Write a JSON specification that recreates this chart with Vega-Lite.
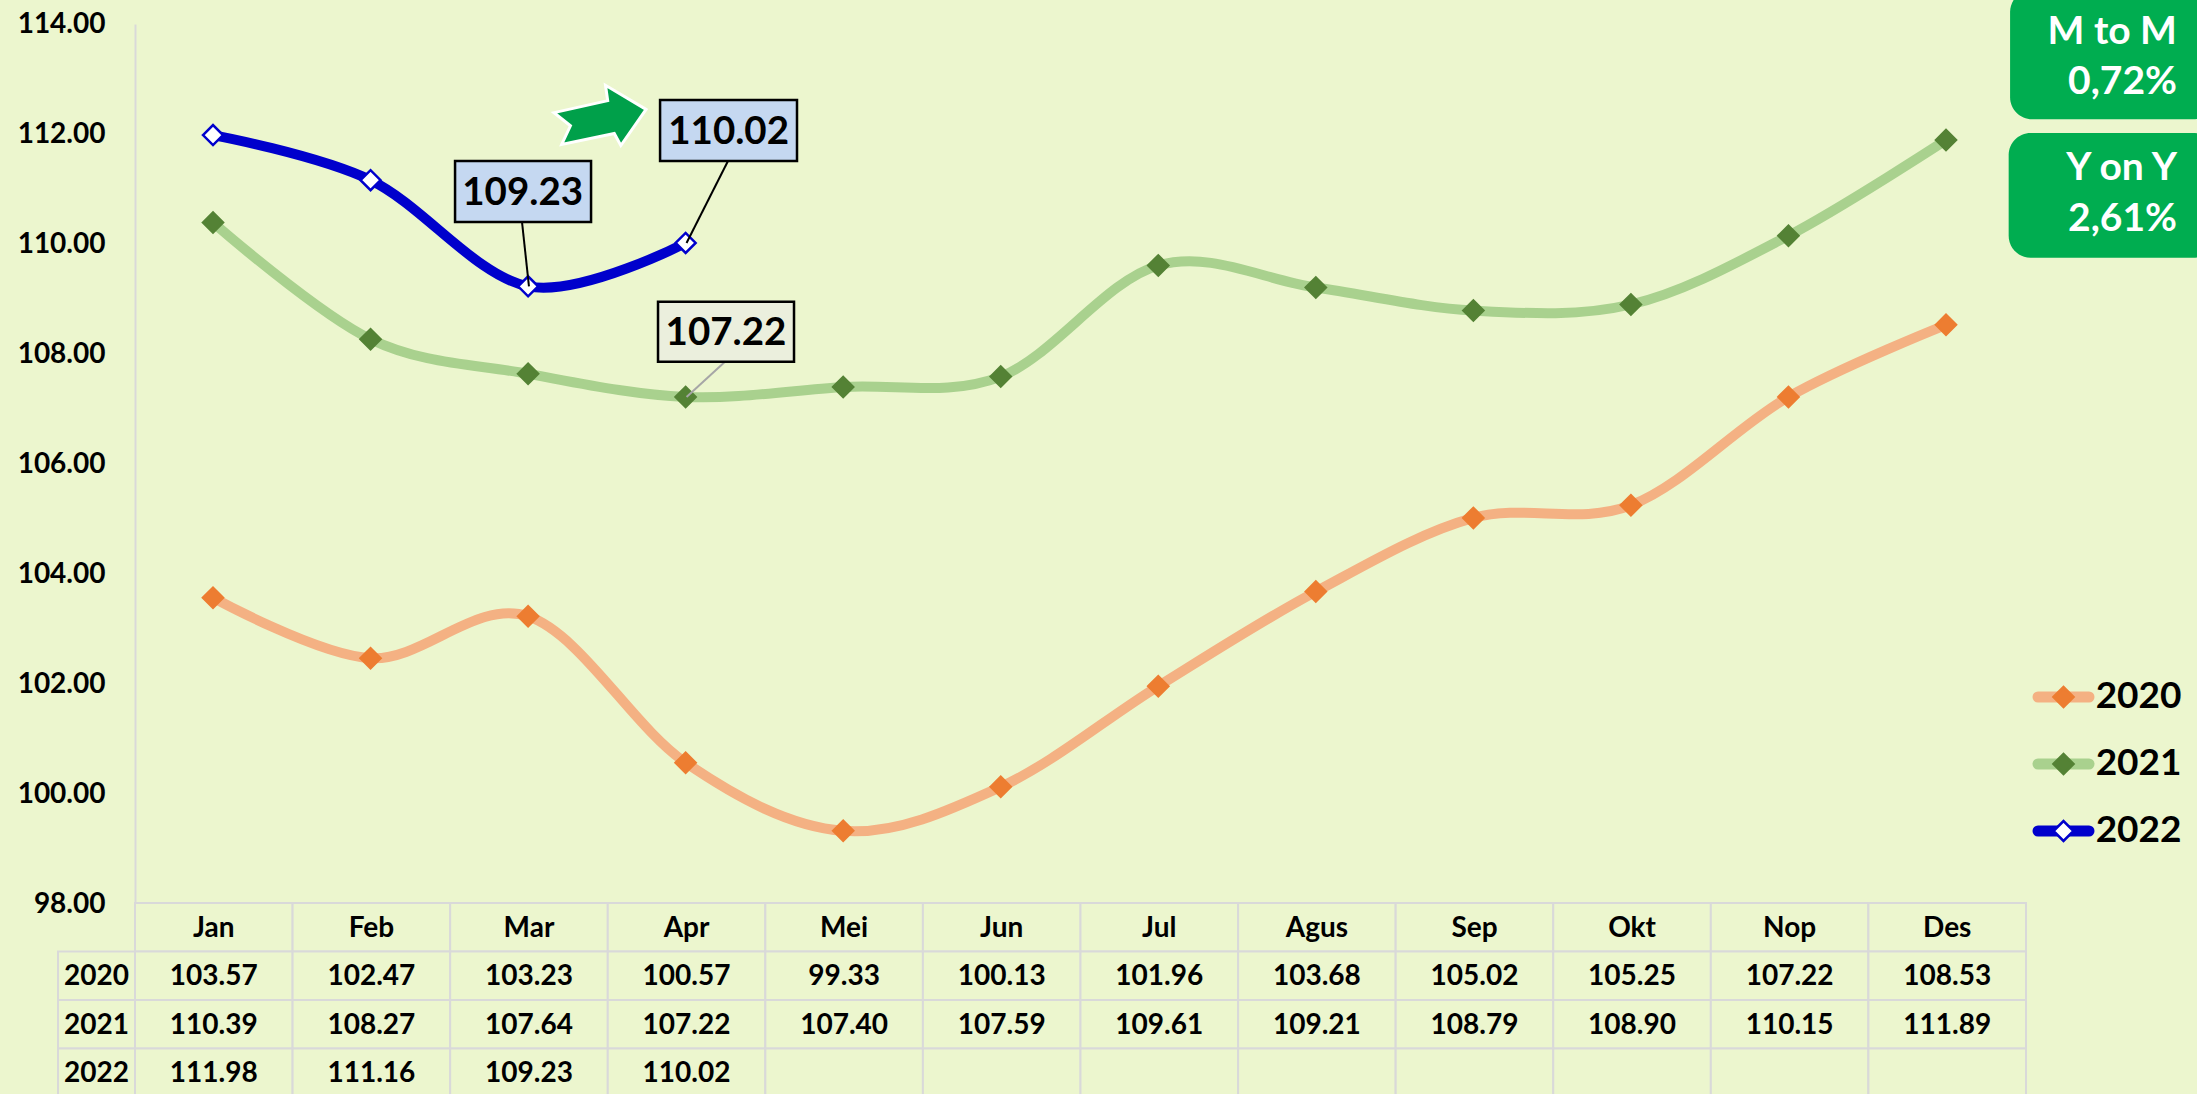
{
"$schema":"https://vega.github.io/schema/vega-lite/v6.json",
"width":2197,"height":1094,"padding":0,"autosize":{"type":"none"},
"background":"#ECF6CE",
"config":{"view":{"stroke":null},"text":{"font":"Lato","fontWeight":"bold","baseline":"middle"}},
"resolve":{"scale":{"x":"independent","y":"independent"},"axis":{"x":"independent","y":"independent"}},
"datasets":{
"series":[
{"month":"Jan","year":"2020","value":103.57},{"month":"Feb","year":"2020","value":102.47},{"month":"Mar","year":"2020","value":103.23},{"month":"Apr","year":"2020","value":100.57},{"month":"Mei","year":"2020","value":99.33},{"month":"Jun","year":"2020","value":100.13},{"month":"Jul","year":"2020","value":101.96},{"month":"Agus","year":"2020","value":103.68},{"month":"Sep","year":"2020","value":105.02},{"month":"Okt","year":"2020","value":105.25},{"month":"Nop","year":"2020","value":107.22},{"month":"Des","year":"2020","value":108.53},
{"month":"Jan","year":"2021","value":110.39},{"month":"Feb","year":"2021","value":108.27},{"month":"Mar","year":"2021","value":107.64},{"month":"Apr","year":"2021","value":107.22},{"month":"Mei","year":"2021","value":107.40},{"month":"Jun","year":"2021","value":107.59},{"month":"Jul","year":"2021","value":109.61},{"month":"Agus","year":"2021","value":109.21},{"month":"Sep","year":"2021","value":108.79},{"month":"Okt","year":"2021","value":108.90},{"month":"Nop","year":"2021","value":110.15},{"month":"Des","year":"2021","value":111.89},
{"month":"Jan","year":"2022","value":111.98},{"month":"Feb","year":"2022","value":111.16},{"month":"Mar","year":"2022","value":109.23},{"month":"Apr","year":"2022","value":110.02}],
"cells":[
{"col":"Jan","row":"Bulan"},{"col":"Feb","row":"Bulan"},{"col":"Mar","row":"Bulan"},{"col":"Apr","row":"Bulan"},{"col":"Mei","row":"Bulan"},{"col":"Jun","row":"Bulan"},{"col":"Jul","row":"Bulan"},{"col":"Agus","row":"Bulan"},{"col":"Sep","row":"Bulan"},{"col":"Okt","row":"Bulan"},{"col":"Nop","row":"Bulan"},{"col":"Des","row":"Bulan"},
{"col":"Jan","row":"2020"},{"col":"Feb","row":"2020"},{"col":"Mar","row":"2020"},{"col":"Apr","row":"2020"},{"col":"Mei","row":"2020"},{"col":"Jun","row":"2020"},{"col":"Jul","row":"2020"},{"col":"Agus","row":"2020"},{"col":"Sep","row":"2020"},{"col":"Okt","row":"2020"},{"col":"Nop","row":"2020"},{"col":"Des","row":"2020"},
{"col":"Jan","row":"2021"},{"col":"Feb","row":"2021"},{"col":"Mar","row":"2021"},{"col":"Apr","row":"2021"},{"col":"Mei","row":"2021"},{"col":"Jun","row":"2021"},{"col":"Jul","row":"2021"},{"col":"Agus","row":"2021"},{"col":"Sep","row":"2021"},{"col":"Okt","row":"2021"},{"col":"Nop","row":"2021"},{"col":"Des","row":"2021"},
{"col":"Jan","row":"2022"},{"col":"Feb","row":"2022"},{"col":"Mar","row":"2022"},{"col":"Apr","row":"2022"},{"col":"Mei","row":"2022"},{"col":"Jun","row":"2022"},{"col":"Jul","row":"2022"},{"col":"Agus","row":"2022"},{"col":"Sep","row":"2022"},{"col":"Okt","row":"2022"},{"col":"Nop","row":"2022"},{"col":"Des","row":"2022"}],
"years":[{"row":"2020"},{"row":"2021"},{"row":"2022"}],
"legendLine":[{"year":"2020","k":0},{"year":"2020","k":1},{"year":"2021","k":0},{"year":"2021","k":1},{"year":"2022","k":0},{"year":"2022","k":1}],
"legendMark":[{"year":"2020","k":0.5,"t":1.13},{"year":"2021","k":0.5,"t":1.13},{"year":"2022","k":0.5,"t":1.13}],
"callouts":[
{"label":"109.23","x0":2.531,"x1":3.394,"y0":110.38,"y1":111.49,"xc":2.96,"yc":110.93,"xe":3,"ye":109.21,"xs":2.956,"ys":110.38,"fill":"#C5D8F1","line":"#000000"},
{"label":"110.02","x0":3.832,"x1":4.701,"y0":111.49,"y1":112.60,"xc":4.267,"yc":112.04,"xe":4,"ye":110.0,"xs":4.263,"ys":111.49,"fill":"#C5D8F1","line":"#000000"},
{"label":"107.22","x0":3.819,"x1":4.682,"y0":107.84,"y1":108.93,"xc":4.25,"yc":108.38,"xe":4,"ye":107.2,"xs":4.244,"ys":107.84,"fill":"#EBEFDD","line":"#A6A6A6"}],
"badges":[
{"name":"M to M","x0":12.399,"x1":13.7,"y0":112.25,"y1":114.6},
{"name":"Y on Y","x0":12.39,"x1":13.7,"y0":109.73,"y1":112.0}],
"badgeText":[
{"t":"M to M","x":13.458,"y":113.84},{"t":"0,72%","x":13.458,"y":112.93},
{"t":"Y on Y","x":13.458,"y":111.36},{"t":"2,61%","x":13.458,"y":110.44}],
"arrow":[{"x":3.451,"y":112.33}]
},
"layer":[
{"data":{"name":"cells"},"mark":{"type":"rect","fill":"#ECF6CE","stroke":"#D9D9D9","strokeWidth":2},
 "encoding":{
 "x":{"field":"col","type":"nominal","axis":null,"scale":{"type":"band","domain":["Jan","Feb","Mar","Apr","Mei","Jun","Jul","Agus","Sep","Okt","Nop","Des"],"range":[135,2026]}},
 "y":{"field":"row","type":"nominal","axis":null,"scale":{"type":"band","domain":["Bulan","2020","2021","2022"],"range":[903,1097]}}}},
{"data":{"name":"years"},"mark":{"type":"rect","fill":"#ECF6CE","stroke":"#D9D9D9","strokeWidth":2},
 "encoding":{
 "x":{"datum":"Tahun","type":"nominal","axis":null,"scale":{"type":"band","domain":["Tahun"],"range":[58,135]}},
 "y":{"field":"row","type":"nominal","axis":null,"scale":{"type":"band","domain":["Bulan","2020","2021","2022"],"range":[903,1097]}}}},
{"data":{"name":"years"},"mark":{"type":"text","fontSize":28,"color":"#000000","dy":1.5},
 "encoding":{
 "x":{"datum":"Tahun","type":"nominal","axis":null,"scale":{"type":"band","domain":["Tahun"],"range":[58,135]}},
 "y":{"field":"row","type":"nominal","axis":null,"scale":{"type":"band","domain":["Bulan","2020","2021","2022"],"range":[903,1097]}},
 "text":{"field":"row"}}},
{"data":{"name":"cells"},"transform":[{"filter":"datum.row==='Bulan'"}],"mark":{"type":"text","fontSize":28,"color":"#000000","dy":2},
 "encoding":{
 "x":{"field":"col","type":"nominal","axis":null,"scale":{"type":"band","domain":["Jan","Feb","Mar","Apr","Mei","Jun","Jul","Agus","Sep","Okt","Nop","Des"],"range":[135,2026]}},
 "y":{"field":"row","type":"nominal","axis":null,"scale":{"type":"band","domain":["Bulan","2020","2021","2022"],"range":[903,1097]}},
 "text":{"field":"col"}}},
{"data":{"name":"series"},"mark":{"type":"text","fontSize":28,"color":"#000000","dy":1.5},
 "encoding":{
 "x":{"field":"month","type":"nominal","axis":null,"scale":{"type":"band","domain":["Jan","Feb","Mar","Apr","Mei","Jun","Jul","Agus","Sep","Okt","Nop","Des"],"range":[135,2026]}},
 "y":{"field":"year","type":"nominal","axis":null,"scale":{"type":"band","domain":["Bulan","2020","2021","2022"],"range":[903,1097]}},
 "text":{"field":"value","type":"quantitative","format":".2f"}}},
{"data":{"name":"series"},"mark":{"type":"line","interpolate":"cardinal","tension":0,"strokeCap":"butt"},
 "encoding":{
 "x":{"field":"month","type":"ordinal","axis":null,"sort":null,"scale":{"type":"point","padding":0,"domain":["Jan","Feb","Mar","Apr","Mei","Jun","Jul","Agus","Sep","Okt","Nop","Des"],"range":[213,1946]}},
 "y":{"field":"value","type":"quantitative","scale":{"domain":[98,114],"range":[904,24],"nice":false,"zero":false},
  "axis":{"orient":"left","offset":-135,"values":[98,100,102,104,106,108,110,112,114],"format":".2f","title":null,"grid":false,"ticks":false,"labelPadding":30,"labelFont":"Lato","labelFontWeight":"bold","labelFontSize":28,"labelColor":"#000000","domainColor":"#D9D9D9","domainWidth":2}},
 "color":{"field":"year","type":"nominal","legend":null,"scale":{"domain":["2020","2021","2022"],"range":["#F4B183","#A9D18E","#0000CC"]}},
 "strokeWidth":{"field":"year","type":"nominal","legend":null,"scale":{"domain":["2020","2021","2022"],"range":[10,10,12]}}}},
{"data":{"name":"series"},"mark":{"type":"point","shape":"diamond","filled":true,"opacity":1,"size":400,"strokeWidth":2.5},
 "encoding":{
 "x":{"field":"month","type":"ordinal","axis":null,"sort":null,"scale":{"type":"point","padding":0,"domain":["Jan","Feb","Mar","Apr","Mei","Jun","Jul","Agus","Sep","Okt","Nop","Des"],"range":[213,1946]}},
 "y":{"field":"value","type":"quantitative","axis":null,"scale":{"domain":[98,114],"range":[904,24],"nice":false,"zero":false}},
 "fill":{"field":"year","type":"nominal","legend":null,"scale":{"domain":["2020","2021","2022"],"range":["#ED7D31","#548235","#FFFFFF"]}},
 "stroke":{"field":"year","type":"nominal","legend":null,"scale":{"domain":["2020","2021","2022"],"range":["#ED7D31","#548235","#0000CC"]}}}},
{"data":{"name":"callouts"},"mark":{"type":"rule","strokeWidth":2},
 "encoding":{
 "x":{"field":"xs","type":"quantitative","axis":null,"scale":{"domain":[0.5,12.5],"range":[135,2026],"nice":false,"zero":false}},"x2":{"field":"xe"},
 "y":{"field":"ys","type":"quantitative","axis":null,"scale":{"domain":[98,114],"range":[903,23],"nice":false,"zero":false}},"y2":{"field":"ye"},
 "color":{"field":"line","type":"nominal","scale":null}}},
{"data":{"name":"callouts"},"mark":{"type":"rect","stroke":"#000000","strokeWidth":2.5},
 "encoding":{
 "x":{"field":"x0","type":"quantitative","axis":null,"scale":{"domain":[0.5,12.5],"range":[135,2026],"nice":false,"zero":false}},"x2":{"field":"x1"},
 "y":{"field":"y0","type":"quantitative","axis":null,"scale":{"domain":[98,114],"range":[903,23],"nice":false,"zero":false}},"y2":{"field":"y1"},
 "fill":{"field":"fill","type":"nominal","scale":null}}},
{"data":{"name":"callouts"},"mark":{"type":"text","fontSize":38.5,"color":"#000000","dy":1},
 "encoding":{
 "x":{"field":"xc","type":"quantitative","axis":null,"scale":{"domain":[0.5,12.5],"range":[135,2026],"nice":false,"zero":false}},
 "y":{"field":"yc","type":"quantitative","axis":null,"scale":{"domain":[98,114],"range":[903,23],"nice":false,"zero":false}},
 "text":{"field":"label"}}},
{"data":{"name":"arrow"},"mark":{"type":"point","shape":"M42 -5 L5 -27 L7 -13 L-42 -2 L-27 10 L-35 27 L13 17 L19 28 Z","size":4.8,"filled":true,"opacity":1,"fill":"#00A04A","stroke":"#FFFFFF","strokeWidth":3},
 "encoding":{
 "x":{"field":"x","type":"quantitative","axis":null,"scale":{"domain":[0.5,12.5],"range":[135,2026],"nice":false,"zero":false}},
 "y":{"field":"y","type":"quantitative","axis":null,"scale":{"domain":[98,114],"range":[903,23],"nice":false,"zero":false}}}},
{"data":{"name":"badges"},"mark":{"type":"rect","fill":"#00AD50","cornerRadius":22},
 "encoding":{
 "x":{"field":"x0","type":"quantitative","axis":null,"scale":{"domain":[0.5,12.5],"range":[135,2026],"nice":false,"zero":false}},"x2":{"field":"x1"},
 "y":{"field":"y0","type":"quantitative","axis":null,"scale":{"domain":[98,114],"range":[903,23],"nice":false,"zero":false}},"y2":{"field":"y1"}}},
{"data":{"name":"badgeText"},"mark":{"type":"text","fontSize":39,"color":"#FFFFFF","align":"right"},
 "encoding":{
 "x":{"field":"x","type":"quantitative","axis":null,"scale":{"domain":[0.5,12.5],"range":[135,2026],"nice":false,"zero":false}},
 "y":{"field":"y","type":"quantitative","axis":null,"scale":{"domain":[98,114],"range":[903,23],"nice":false,"zero":false}},
 "text":{"field":"t"}}},
{"data":{"name":"legendLine"},"mark":{"type":"line","strokeCap":"round"},
 "encoding":{
 "x":{"field":"k","type":"quantitative","axis":null,"scale":{"domain":[0,1],"range":[2038,2089],"nice":false,"zero":false}},
 "y":{"field":"year","type":"ordinal","axis":null,"scale":{"type":"point","padding":0,"domain":["2020","2021","2022"],"range":[697,831]}},
 "color":{"field":"year","type":"nominal","legend":null,"scale":{"domain":["2020","2021","2022"],"range":["#F4B183","#A9D18E","#0000CC"]}},
 "strokeWidth":{"datum":11,"type":"quantitative","legend":null,"scale":null}}},
{"data":{"name":"legendMark"},"mark":{"type":"point","shape":"diamond","filled":true,"opacity":1,"size":400,"strokeWidth":2.5},
 "encoding":{
 "x":{"field":"k","type":"quantitative","axis":null,"scale":{"domain":[0,1],"range":[2038,2089],"nice":false,"zero":false}},
 "y":{"field":"year","type":"ordinal","axis":null,"scale":{"type":"point","padding":0,"domain":["2020","2021","2022"],"range":[697,831]}},
 "fill":{"field":"year","type":"nominal","legend":null,"scale":{"domain":["2020","2021","2022"],"range":["#ED7D31","#548235","#FFFFFF"]}},
 "stroke":{"field":"year","type":"nominal","legend":null,"scale":{"domain":["2020","2021","2022"],"range":["#ED7D31","#548235","#0000CC"]}}}},
{"data":{"name":"legendMark"},"mark":{"type":"text","fontSize":37,"color":"#000000","align":"left"},
 "encoding":{
 "x":{"field":"t","type":"quantitative","axis":null,"scale":{"domain":[0,1],"range":[2038,2089],"nice":false,"zero":false}},
 "y":{"field":"year","type":"ordinal","axis":null,"scale":{"type":"point","padding":0,"domain":["2020","2021","2022"],"range":[697,831]}},
 "text":{"field":"year"}}}
]
}
